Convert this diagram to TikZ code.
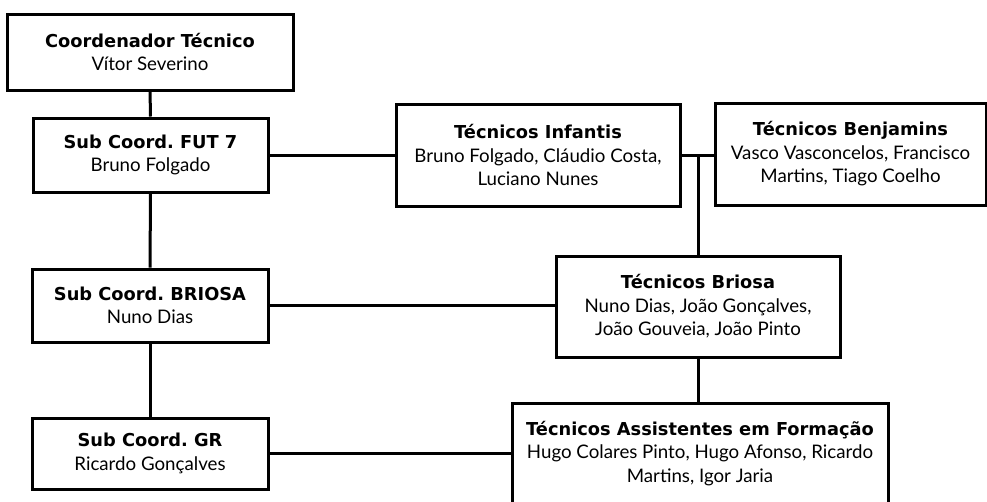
\documentclass[tikz,border=0pt]{standalone}
\usepackage{fontspec}
\setmainfont{Lato}
\newfontfamily\headfont{DejaVu Sans}
\newcommand{\head}[1]{{\headfont\bfseries\fontsize{17.8}{23.5}\selectfont #1}}
\frenchspacing
\tikzset{
	box/.style={draw, line width=3pt, rectangle, align=center, inner sep=0pt,
		font=\fontsize{18.7}{23.5}\selectfont},
	link/.style={line width=3pt}
}

\begin{document}
\begin{tikzpicture}[x=1pt, y=-1pt]
	\useasboundingbox (0,0) rectangle (987,501);
	
	% Draw boxes
	\node[box, minimum width=286, minimum height=76] (coord) at (150,52) {\head{Coordenador Técnico}\\Vítor Severino};
	\node[box, minimum width=235, minimum height=74] (fut) at (150.5,155) {\head{Sub Coord. FUT 7}\\Bruno Folgado};
	\node[box, minimum width=236, minimum height=73] (subbriosa) at (150,305.5) {\head{Sub Coord. BRIOSA}\\Nuno Dias};
	\node[box, minimum width=236, minimum height=71] (gr) at (150,453.5) {\head{Sub Coord. GR}\\Ricardo Gonçalves};
	\node[box, minimum width=284, minimum height=102] (infantis) at (538,155) {\head{Técnicos Infantis}\\Bruno Folgado, Cláudio Costa,\\Luciano Nunes};
	\node[box, minimum width=271, minimum height=102] (benjamins) at (850.5,154) {\head{Técnicos Benjamins}\\Vasco Vasconcelos, Francisco\\Martins, Tiago Coelho};
	\node[box, minimum width=284, minimum height=101] (briosa) at (698,306.5) {\head{Técnicos Briosa}\\Nuno Dias, João Gonçalves,\\João Gouveia, João Pinto};
	\node[box, minimum width=376, minimum height=101] (assist) at (700,453.5) {\head{Técnicos Assistentes em Formação}\\Hugo Colares Pinto, Hugo Afonso, Ricardo\\Martins, Igor Jaria};
	
	% Draw links
	\coordinate (fork) at (698,155);
	\draw[link] (coord) -- (fut);
	\draw[link] (fut) -- (subbriosa);
	\draw[link] (subbriosa) -- (gr);
	\draw[link] (fut.east) -- (infantis.west);
	\draw[link] (infantis.east) -- (benjamins.west |- infantis.east);
	\draw[link] (fork) -- (briosa.north -| fork);
	\draw[link] (subbriosa.east) -- (briosa.west |- subbriosa.east);
	\draw[link] (briosa) -- (assist.north -| briosa);
	\draw[link] (gr.east) -- (assist.west |- gr.east);
\end{tikzpicture}
\end{document}
